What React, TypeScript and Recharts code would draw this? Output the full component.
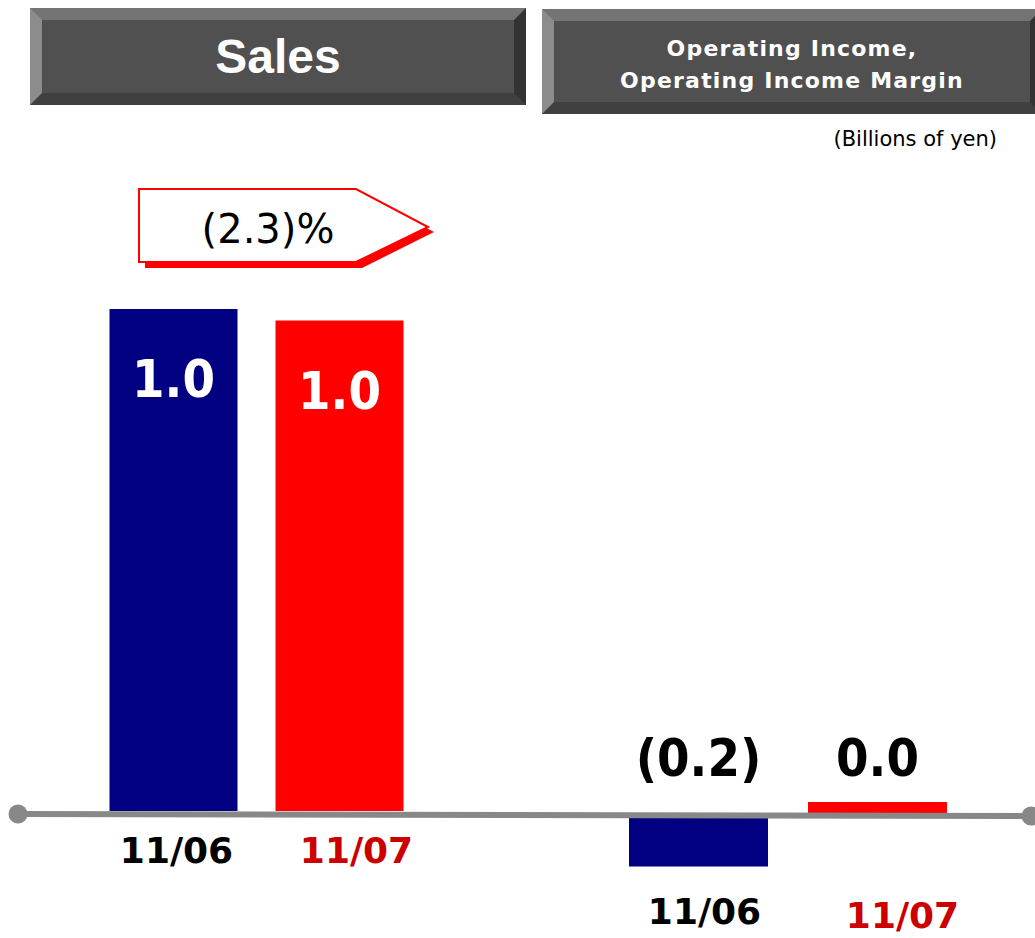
import React from 'react';
import { BarChart, Bar, XAxis, YAxis, Cell, LabelList } from 'recharts';

const categories = ['11/06', '11/07'];
const salesValues = [1.0, 0.977];
const operatingIncomeValues = [-0.17, 0.045];

const barColors = ['#000080', '#ff0000'];
const tickColors = ['#000000', '#cc0000'];

const salesData = categories.map((name, i) => ({ name, value: salesValues[i] }));
const incomeData = categories.map((name, i) => ({ name, value: operatingIncomeValues[i] }));

const salesChange = (salesValues[1] / salesValues[0] - 1) * 100;
const fmt = (v: number) => (v < 0 ? `(${Math.abs(v).toFixed(1)})` : v.toFixed(1));

const valueFont = "'DejaVu Sans Condensed', 'Open Sans', sans-serif";
const tickFont = "'DejaVu Sans', sans-serif";

const CategoryTick = ({ x, y, payload, index, dy, shifts }: any) => (
    <text
        x={x + (shifts?.[index] ?? 0)}
        y={y + dy[index]}
        textAnchor="middle"
        fill={tickColors[index]}
        fontFamily={tickFont}
        fontWeight="bold"
        fontSize={36}
    >
        {payload.value}
    </text>
);

// pulls x/y/width/height from either the viewBox or the flat props
const rectOf = (props: any) => {
    const vb = props.viewBox && props.viewBox.width !== undefined ? props.viewBox : props;
    return { x: Number(vb.x), y: Number(vb.y), width: Number(vb.width), height: Number(vb.height) };
};

const InsideTopLabel = (props: any) => {
    const { x, y, width, height } = rectOf(props);
    const top = Math.min(y, y + height);
    return (
        <text x={x + width / 2} y={top + 88} textAnchor="middle" fill="#ffffff"
            fontFamily={valueFont} fontWeight="bold" fontSize={52}>
            {fmt(Number(props.value))}
        </text>
    );
};

const AboveZeroLabel = (props: any) => {
    const { x, y, width, height } = rectOf(props);
    const zero = y + height;
    return (
        <text x={x + width / 2} y={zero - 40} textAnchor="middle" fill="#000000"
            fontFamily={valueFont} fontWeight="bold" fontSize={52}>
            {fmt(Number(props.value))}
        </text>
    );
};

const HeaderBox: React.FC<{ left: number; top: number; width: number; height: number; children: React.ReactNode }> = ({ left, top, width, height, children }) => (
    <div style={{
        position: 'absolute', left, top, width, height, boxSizing: 'border-box',
        borderStyle: 'solid', borderWidth: 12,
        borderColor: '#747474 #333333 #404040 #8c8c8c',
        background: '#505050', color: '#ffffff',
        display: 'flex', alignItems: 'center', justifyContent: 'center', textAlign: 'center'
    }}>
        {children}
    </div>
);

export default function App() {
    return (
        <div style={{ position: 'absolute', left: 0, top: 0, width: 1035, height: 938, overflow: 'hidden', background: '#ffffff' }}>
            <HeaderBox left={30} top={8} width={496} height={97}>
                <span style={{ fontFamily: "'Liberation Sans', Arial, sans-serif", fontWeight: 'bold', fontSize: 48 }}>Sales</span>
            </HeaderBox>
            <HeaderBox left={542} top={9} width={500} height={105}>
                <div style={{ fontFamily: tickFont, fontWeight: 'bold', fontSize: 22, lineHeight: '32px', letterSpacing: 1.2, paddingTop: 6 }}>
                    Operating Income,<br />Operating Income Margin
                </div>
            </HeaderBox>
            <div style={{ position: 'absolute', right: 38, top: 127, fontFamily: tickFont, fontSize: 21, color: '#000' }}>
                (Billions of yen)
            </div>

            <div style={{ position: 'absolute', left: 0, top: 0 }}>
                <BarChart width={520} height={938} data={salesData}
                    margin={{ top: 309, right: 97.5, bottom: 67, left: 90.5 }}>
                    <YAxis hide domain={[0, 1]} type="number" />
                    <XAxis dataKey="name" height={60} axisLine={false} tickLine={false} tickSize={0} tickMargin={0}
                        interval={0} tick={<CategoryTick dy={[52, 52]} shifts={[3, 17]} />} />
                    <Bar dataKey="value" barSize={128} isAnimationActive={false}>
                        {salesData.map((d, i) => <Cell key={d.name} fill={barColors[i]} />)}
                        <LabelList dataKey="value" content={<InsideTopLabel />} />
                    </Bar>
                </BarChart>
            </div>

            <div style={{ position: 'absolute', left: 520, top: 0 }}>
                <BarChart width={515} height={938} data={incomeData}
                    margin={{ top: 755.5, right: 68, bottom: 42.5, left: 89 }}>
                    <YAxis hide domain={[-0.2, 0.2]} type="number" />
                    <XAxis dataKey="name" height={20} axisLine={false} tickLine={false} tickSize={0} tickMargin={0}
                        interval={0} tick={<CategoryTick dy={[48.5, 52]} shifts={[6, 25]} />} />
                    <Bar dataKey="value" barSize={139} isAnimationActive={false}>
                        {incomeData.map((d, i) => <Cell key={d.name} fill={barColors[i]} />)}
                        <LabelList dataKey="value" content={<AboveZeroLabel />} />
                    </Bar>
                </BarChart>
            </div>

            <svg width={1035} height={938} style={{ position: 'absolute', left: 0, top: 0, pointerEvents: 'none' }}>
                {/* change callout */}
                <polygon points="145,194 362,194 434,232 362,268 145,268" fill="#ff0000" />
                <polygon points="139,189 356,189 428,227 356,262 139,262" fill="#ffffff" stroke="#ff0000" strokeWidth={2} />
                <text x={268} y={243} textAnchor="middle" fontFamily={tickFont} fontSize={40} fill="#000">
                    {`${fmt(salesChange)}%`}
                </text>
                {/* baseline */}
                <line x1={18} y1={814} x2={1031} y2={816} stroke="#888888" strokeWidth={6} />
                <circle cx={18} cy={814} r={9.5} fill="#888888" />
                <circle cx={1031} cy={816} r={9.5} fill="#888888" />
            </svg>
        </div>
    );
}
